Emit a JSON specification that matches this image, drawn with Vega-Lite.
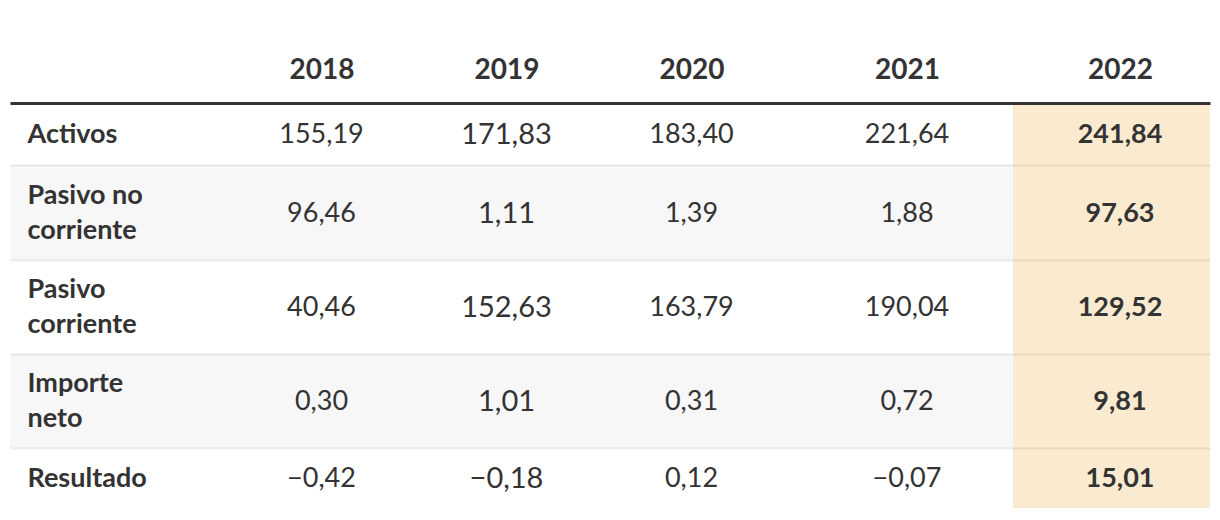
{
  "$schema": "https://vega.github.io/schema/vega-lite/v6.json",
  "padding": {"left": 10, "top": 56, "right": 10, "bottom": 0},
  "background": "#ffffff",
  "datasets": {
    "cells": [
      {"metric": "Activos", "year": 2018, "value": 155.19},
      {"metric": "Activos", "year": 2019, "value": 171.83},
      {"metric": "Activos", "year": 2020, "value": 183.40},
      {"metric": "Activos", "year": 2021, "value": 221.64},
      {"metric": "Activos", "year": 2022, "value": 241.84},
      {"metric": "Pasivo no corriente", "year": 2018, "value": 96.46},
      {"metric": "Pasivo no corriente", "year": 2019, "value": 1.11},
      {"metric": "Pasivo no corriente", "year": 2020, "value": 1.39},
      {"metric": "Pasivo no corriente", "year": 2021, "value": 1.88},
      {"metric": "Pasivo no corriente", "year": 2022, "value": 97.63},
      {"metric": "Pasivo corriente", "year": 2018, "value": 40.46},
      {"metric": "Pasivo corriente", "year": 2019, "value": 152.63},
      {"metric": "Pasivo corriente", "year": 2020, "value": 163.79},
      {"metric": "Pasivo corriente", "year": 2021, "value": 190.04},
      {"metric": "Pasivo corriente", "year": 2022, "value": 129.52},
      {"metric": "Importe neto", "year": 2018, "value": 0.30},
      {"metric": "Importe neto", "year": 2019, "value": 1.01},
      {"metric": "Importe neto", "year": 2020, "value": 0.31},
      {"metric": "Importe neto", "year": 2021, "value": 0.72},
      {"metric": "Importe neto", "year": 2022, "value": 9.81},
      {"metric": "Resultado", "year": 2018, "value": -0.42},
      {"metric": "Resultado", "year": 2019, "value": -0.18},
      {"metric": "Resultado", "year": 2020, "value": 0.12},
      {"metric": "Resultado", "year": 2021, "value": -0.07},
      {"metric": "Resultado", "year": 2022, "value": 15.01}
    ]
  },
  "vconcat": [
    {
      "width": 1200, "height": 62,
      "view": {"stroke": null},
      "layer": [
        {
          "data": {"name": "cells"},
          "transform": [{"filter": "datum.metric === 'Activos' && datum.year === 2022"}],
          "mark": {"type": "rect", "color": "#faebd0"},
          "encoding": {
            "x": {"datum": 2021.5, "type": "quantitative", "scale": {"type": "linear", "domain": [2017, 2018, 2019, 2020, 2021, 2021.5, 2022, 2022.5], "range": [0, 311.5, 496.5, 681.5, 897, 1003, 1110, 1200], "nice": false, "zero": false},
              "axis": {"orient": "top", "values": [2018, 2019, 2020, 2021, 2022], "format": "d", "title": null, "grid": false, "ticks": false, "tickSize": 0, "labelPadding": 25, "labelBaseline": "alphabetic", "labelFont": "Lato", "labelFontSize": 28, "labelFontWeight": "bold", "labelColor": "#333333", "labelFlush": false, "labelOverlap": false, "labelBound": false, "domain": true, "domainColor": "#333333", "domainWidth": 3, "domainCap": "butt", "zindex": 1}},
            "x2": {"datum": 2022.5},
            "y": {"field": "metric", "type": "nominal", "scale": {"paddingInner": 0, "paddingOuter": 0},
              "axis": {"orient": "left", "title": null, "domain": false, "ticks": false, "tickSize": 0, "grid": false, "labelAlign": "left", "labelBaseline": "middle", "labelPadding": -17, "labelOffset": 1, "labelFont": "Lato", "labelFontSize": 27, "labelFontWeight": "bold", "labelColor": "#333333", "labelLimit": 0, "labelLineHeight": 35, "labelExpr": "split(replace(datum.value, / (\\S+)$/, '|$1'), '|')", "zindex": 1}}
          }
        },
        {
          "data": {"name": "cells"},
          "transform": [{"filter": "datum.metric === 'Activos'"}],
          "mark": {"type": "text", "font": "Lato", "color": "#333333", "align": "center", "baseline": "middle", "dy": 1},
          "encoding": {
            "x": {"field": "year", "type": "quantitative"},
            "y": {"field": "metric", "type": "nominal"},
            "text": {"field": "value", "type": "quantitative", "format": ".2f"},
            "size": {"condition": {"test": "datum.year === 2019", "value": 29}, "value": 27},
            "opacity": {"condition": {"test": "datum.year === 2022", "value": 0}, "value": 1}
          }
        },
        {
          "data": {"name": "cells"},
          "transform": [{"filter": "datum.metric === 'Activos' && datum.year === 2022"}],
          "mark": {"type": "text", "font": "Lato", "fontWeight": "bold", "color": "#333333", "align": "center", "baseline": "middle", "fontSize": 27, "dy": 1},
          "encoding": {
            "x": {"field": "year", "type": "quantitative"},
            "y": {"field": "metric", "type": "nominal"},
            "text": {"field": "value", "type": "quantitative", "format": ".2f"}
          }
        }
      ]
    },
    {
      "width": 1200, "height": 95,
      "view": {"stroke": null, "fill": "#f7f7f7"},
      "layer": [
        {
          "data": {"name": "cells"},
          "transform": [{"filter": "datum.metric === 'Pasivo no corriente' && datum.year === 2022"}],
          "mark": {"type": "rect", "color": "#faebd0"},
          "encoding": {
            "x": {"datum": 2021.5, "type": "quantitative", "scale": {"type": "linear", "domain": [2017, 2018, 2019, 2020, 2021, 2021.5, 2022, 2022.5], "range": [0, 311.5, 496.5, 681.5, 897, 1003, 1110, 1200], "nice": false, "zero": false},
              "axis": {"orient": "top", "title": null, "grid": false, "ticks": false, "labels": false, "domain": true, "domainColor": "rgba(0,0,0,0.075)", "domainWidth": 2, "zindex": 1}},
            "x2": {"datum": 2022.5},
            "y": {"field": "metric", "type": "nominal", "scale": {"paddingInner": 0, "paddingOuter": 0},
              "axis": {"orient": "left", "title": null, "domain": false, "ticks": false, "tickSize": 0, "grid": false, "labelAlign": "left", "labelBaseline": "middle", "labelPadding": -17, "labelOffset": -17, "labelFont": "Lato", "labelFontSize": 27, "labelFontWeight": "bold", "labelColor": "#333333", "labelLimit": 0, "labelLineHeight": 35, "labelExpr": "split(replace(datum.value, / (\\S+)$/, '|$1'), '|')", "zindex": 1}}
          }
        },
        {
          "data": {"name": "cells"},
          "transform": [{"filter": "datum.metric === 'Pasivo no corriente'"}],
          "mark": {"type": "text", "font": "Lato", "color": "#333333", "align": "center", "baseline": "middle", "dy": 1},
          "encoding": {
            "x": {"field": "year", "type": "quantitative"},
            "y": {"field": "metric", "type": "nominal"},
            "text": {"field": "value", "type": "quantitative", "format": ".2f"},
            "size": {"condition": {"test": "datum.year === 2019", "value": 29}, "value": 27},
            "opacity": {"condition": {"test": "datum.year === 2022", "value": 0}, "value": 1}
          }
        },
        {
          "data": {"name": "cells"},
          "transform": [{"filter": "datum.metric === 'Pasivo no corriente' && datum.year === 2022"}],
          "mark": {"type": "text", "font": "Lato", "fontWeight": "bold", "color": "#333333", "align": "center", "baseline": "middle", "fontSize": 27, "dy": 1},
          "encoding": {
            "x": {"field": "year", "type": "quantitative"},
            "y": {"field": "metric", "type": "nominal"},
            "text": {"field": "value", "type": "quantitative", "format": ".2f"}
          }
        }
      ]
    },
    {
      "width": 1200, "height": 94,
      "view": {"stroke": null},
      "layer": [
        {
          "data": {"name": "cells"},
          "transform": [{"filter": "datum.metric === 'Pasivo corriente' && datum.year === 2022"}],
          "mark": {"type": "rect", "color": "#faebd0"},
          "encoding": {
            "x": {"datum": 2021.5, "type": "quantitative", "scale": {"type": "linear", "domain": [2017, 2018, 2019, 2020, 2021, 2021.5, 2022, 2022.5], "range": [0, 311.5, 496.5, 681.5, 897, 1003, 1110, 1200], "nice": false, "zero": false},
              "axis": {"orient": "top", "title": null, "grid": false, "ticks": false, "labels": false, "domain": true, "domainColor": "rgba(0,0,0,0.075)", "domainWidth": 2, "zindex": 1}},
            "x2": {"datum": 2022.5},
            "y": {"field": "metric", "type": "nominal", "scale": {"paddingInner": 0, "paddingOuter": 0},
              "axis": {"orient": "left", "title": null, "domain": false, "ticks": false, "tickSize": 0, "grid": false, "labelAlign": "left", "labelBaseline": "middle", "labelPadding": -17, "labelOffset": -17, "labelFont": "Lato", "labelFontSize": 27, "labelFontWeight": "bold", "labelColor": "#333333", "labelLimit": 0, "labelLineHeight": 35, "labelExpr": "split(replace(datum.value, / (\\S+)$/, '|$1'), '|')", "zindex": 1}}
          }
        },
        {
          "data": {"name": "cells"},
          "transform": [{"filter": "datum.metric === 'Pasivo corriente'"}],
          "mark": {"type": "text", "font": "Lato", "color": "#333333", "align": "center", "baseline": "middle", "dy": 1},
          "encoding": {
            "x": {"field": "year", "type": "quantitative"},
            "y": {"field": "metric", "type": "nominal"},
            "text": {"field": "value", "type": "quantitative", "format": ".2f"},
            "size": {"condition": {"test": "datum.year === 2019", "value": 29}, "value": 27},
            "opacity": {"condition": {"test": "datum.year === 2022", "value": 0}, "value": 1}
          }
        },
        {
          "data": {"name": "cells"},
          "transform": [{"filter": "datum.metric === 'Pasivo corriente' && datum.year === 2022"}],
          "mark": {"type": "text", "font": "Lato", "fontWeight": "bold", "color": "#333333", "align": "center", "baseline": "middle", "fontSize": 27, "dy": 1},
          "encoding": {
            "x": {"field": "year", "type": "quantitative"},
            "y": {"field": "metric", "type": "nominal"},
            "text": {"field": "value", "type": "quantitative", "format": ".2f"}
          }
        }
      ]
    },
    {
      "width": 1200, "height": 94,
      "view": {"stroke": null, "fill": "#f7f7f7"},
      "layer": [
        {
          "data": {"name": "cells"},
          "transform": [{"filter": "datum.metric === 'Importe neto' && datum.year === 2022"}],
          "mark": {"type": "rect", "color": "#faebd0"},
          "encoding": {
            "x": {"datum": 2021.5, "type": "quantitative", "scale": {"type": "linear", "domain": [2017, 2018, 2019, 2020, 2021, 2021.5, 2022, 2022.5], "range": [0, 311.5, 496.5, 681.5, 897, 1003, 1110, 1200], "nice": false, "zero": false},
              "axis": {"orient": "top", "title": null, "grid": false, "ticks": false, "labels": false, "domain": true, "domainColor": "rgba(0,0,0,0.075)", "domainWidth": 2, "zindex": 1}},
            "x2": {"datum": 2022.5},
            "y": {"field": "metric", "type": "nominal", "scale": {"paddingInner": 0, "paddingOuter": 0},
              "axis": {"orient": "left", "title": null, "domain": false, "ticks": false, "tickSize": 0, "grid": false, "labelAlign": "left", "labelBaseline": "middle", "labelPadding": -17, "labelOffset": -17, "labelFont": "Lato", "labelFontSize": 27, "labelFontWeight": "bold", "labelColor": "#333333", "labelLimit": 0, "labelLineHeight": 35, "labelExpr": "split(replace(datum.value, / (\\S+)$/, '|$1'), '|')", "zindex": 1}}
          }
        },
        {
          "data": {"name": "cells"},
          "transform": [{"filter": "datum.metric === 'Importe neto'"}],
          "mark": {"type": "text", "font": "Lato", "color": "#333333", "align": "center", "baseline": "middle", "dy": 1},
          "encoding": {
            "x": {"field": "year", "type": "quantitative"},
            "y": {"field": "metric", "type": "nominal"},
            "text": {"field": "value", "type": "quantitative", "format": ".2f"},
            "size": {"condition": {"test": "datum.year === 2019", "value": 29}, "value": 27},
            "opacity": {"condition": {"test": "datum.year === 2022", "value": 0}, "value": 1}
          }
        },
        {
          "data": {"name": "cells"},
          "transform": [{"filter": "datum.metric === 'Importe neto' && datum.year === 2022"}],
          "mark": {"type": "text", "font": "Lato", "fontWeight": "bold", "color": "#333333", "align": "center", "baseline": "middle", "fontSize": 27, "dy": 1},
          "encoding": {
            "x": {"field": "year", "type": "quantitative"},
            "y": {"field": "metric", "type": "nominal"},
            "text": {"field": "value", "type": "quantitative", "format": ".2f"}
          }
        }
      ]
    },
    {
      "width": 1200, "height": 60,
      "view": {"stroke": null},
      "layer": [
        {
          "data": {"name": "cells"},
          "transform": [{"filter": "datum.metric === 'Resultado' && datum.year === 2022"}],
          "mark": {"type": "rect", "color": "#faebd0"},
          "encoding": {
            "x": {"datum": 2021.5, "type": "quantitative", "scale": {"type": "linear", "domain": [2017, 2018, 2019, 2020, 2021, 2021.5, 2022, 2022.5], "range": [0, 311.5, 496.5, 681.5, 897, 1003, 1110, 1200], "nice": false, "zero": false},
              "axis": {"orient": "top", "title": null, "grid": false, "ticks": false, "labels": false, "domain": true, "domainColor": "rgba(0,0,0,0.075)", "domainWidth": 2, "zindex": 1}},
            "x2": {"datum": 2022.5},
            "y": {"field": "metric", "type": "nominal", "scale": {"paddingInner": 0, "paddingOuter": 0},
              "axis": {"orient": "left", "title": null, "domain": false, "ticks": false, "tickSize": 0, "grid": false, "labelAlign": "left", "labelBaseline": "middle", "labelPadding": -17, "labelOffset": 1, "labelFont": "Lato", "labelFontSize": 27, "labelFontWeight": "bold", "labelColor": "#333333", "labelLimit": 0, "labelLineHeight": 35, "labelExpr": "split(replace(datum.value, / (\\S+)$/, '|$1'), '|')", "zindex": 1}}
          }
        },
        {
          "data": {"name": "cells"},
          "transform": [{"filter": "datum.metric === 'Resultado'"}],
          "mark": {"type": "text", "font": "Lato", "color": "#333333", "align": "center", "baseline": "middle", "dy": 1},
          "encoding": {
            "x": {"field": "year", "type": "quantitative"},
            "y": {"field": "metric", "type": "nominal"},
            "text": {"field": "value", "type": "quantitative", "format": ".2f"},
            "size": {"condition": {"test": "datum.year === 2019", "value": 29}, "value": 27},
            "opacity": {"condition": {"test": "datum.year === 2022", "value": 0}, "value": 1}
          }
        },
        {
          "data": {"name": "cells"},
          "transform": [{"filter": "datum.metric === 'Resultado' && datum.year === 2022"}],
          "mark": {"type": "text", "font": "Lato", "fontWeight": "bold", "color": "#333333", "align": "center", "baseline": "middle", "fontSize": 27, "dy": 1},
          "encoding": {
            "x": {"field": "year", "type": "quantitative"},
            "y": {"field": "metric", "type": "nominal"},
            "text": {"field": "value", "type": "quantitative", "format": ".2f"}
          }
        }
      ]
    }
  ],
  "spacing": 0,
  "bounds": "flush",
  "config": {
    "font": "Lato",
    "view": {"stroke": null},
    "locale": {"number": {"decimal": ",", "thousands": ".", "grouping": [3], "currency": ["", " €"], "minus": "−"}}
  }
}
